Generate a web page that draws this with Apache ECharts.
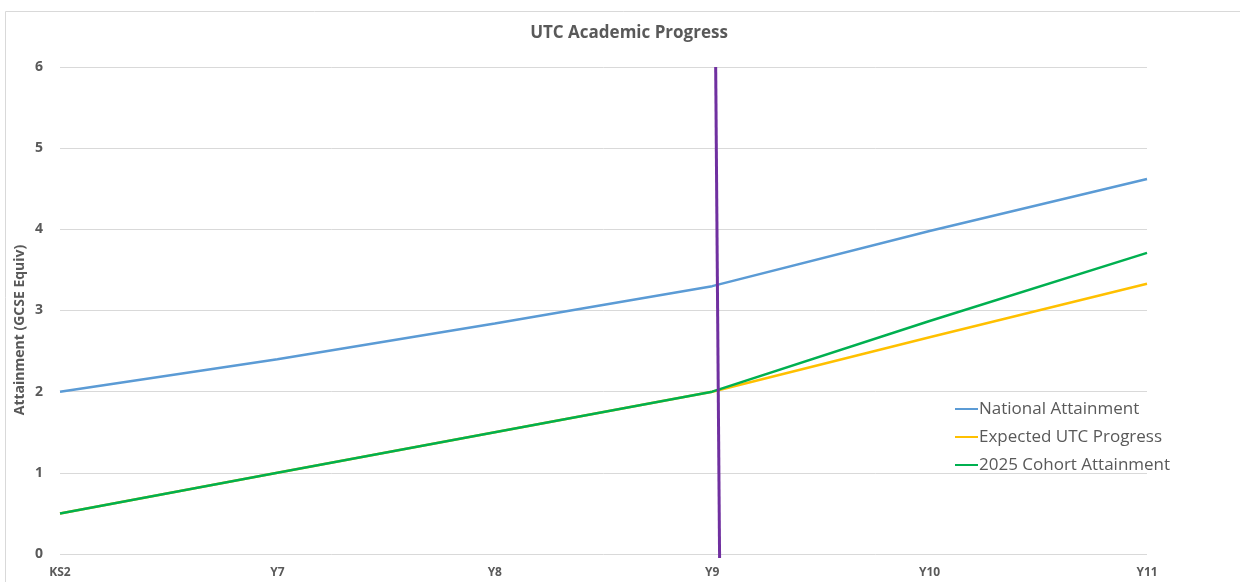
<!DOCTYPE html>
<html>
<head>
<meta charset="utf-8">
<script src="https://cdn.jsdelivr.net/npm/echarts@6/dist/echarts.min.js"></script>
<style>
html,body{margin:0;padding:0;background:#fff;}
#chart{width:1240px;height:582px;}
</style>
</head>
<body>
<div id="chart"></div>
<script>
const categories = ['KS2', 'Y7', 'Y8', 'Y9', 'Y10', 'Y11'];
const nationalAttainment = [2.0, 2.40, 2.84, 3.30, 3.98, 4.62];
const expectedProgress = [0.5, 1.0, 1.5, 2.0, 2.67, 3.33];
const cohortAttainment = [0.5, 1.0, 1.5, 2.0, 2.87, 3.71];
const markerLineX = [3.016, 3.034];
const markerLineY = [6.0, -0.05];
const yTicks = [0, 1, 2, 3, 4, 5, 6];

const fontFam = '"Open Sans", "Noto Sans", sans-serif';
const chart = echarts.init(document.getElementById('chart'));
const option = {
  backgroundColor: '#ffffff',
  animation: false,
  title: {
    text: 'UTC Academic Progress',
    left: 624, top: 20, textAlign: 'center',
    textStyle: { fontFamily: fontFam, fontSize: 17, fontWeight: 'bold', color: '#595959' }
  },
  graphic: [
    { type: 'rect', shape: { x: 5.5, y: 11.5, width: 1300, height: 650 },
      style: { fill: 'none', stroke: '#d9d9d9', lineWidth: 1 }, silent: true, z: -1 },
    { type: 'text', x: 20, y: 330, rotation: Math.PI / 2,
      style: { text: 'Attainment (GCSE Equiv)', fill: '#595959', font: 'bold 14px ' + fontFam,
               textAlign: 'center', textVerticalAlign: 'middle' } }
  ],
  legend: {
    orient: 'vertical', left: 950, top: 395, itemGap: 10,
    itemWidth: 23, itemHeight: 2, icon: 'rect',
    textStyle: { fontFamily: fontFam, fontSize: 17, lineHeight: 18, color: '#595959', padding: [0, 0, 0, -4] },
    data: ['National Attainment', 'Expected UTC Progress', '2025 Cohort Attainment']
  },
  grid: { left: 60, right: 93, top: 67, bottom: 28, containLabel: false },
  xAxis: [
    { type: 'category', data: categories, boundaryGap: false,
      axisLine: { show: false }, axisTick: { show: false },
      axisLabel: { fontFamily: fontFam, fontSize: 12, fontWeight: 'bold', color: '#595959', margin: 13 } },
    { type: 'value', min: 0, max: 5, show: false }
  ],
  yAxis: {
    type: 'value', min: yTicks[0], max: yTicks[yTicks.length - 1], interval: 1,
    axisLine: { show: false }, axisTick: { show: false },
    splitLine: { lineStyle: { color: '#d9d9d9', width: 1 } },
    axisLabel: { fontFamily: fontFam, fontSize: 14, fontWeight: 'bold', color: '#595959', margin: 17 }
  },
  series: [
    { name: 'National Attainment', type: 'line', data: nationalAttainment, showSymbol: false,
      lineStyle: { color: '#5B9BD5', width: 2.5 }, itemStyle: { color: '#5B9BD5' } },
    { name: 'Expected UTC Progress', type: 'line', data: expectedProgress, showSymbol: false,
      lineStyle: { color: '#FFC000', width: 2.5 }, itemStyle: { color: '#FFC000' } },
    { name: '2025 Cohort Attainment', type: 'line', data: cohortAttainment, showSymbol: false,
      lineStyle: { color: '#00B050', width: 2.5 }, itemStyle: { color: '#00B050' } },
    { name: 'Marker', type: 'line', xAxisIndex: 1, showSymbol: false, clip: false,
      data: markerLineX.map((x, i) => [x, markerLineY[i]]),
      lineStyle: { color: '#7030A0', width: 3 }, itemStyle: { color: '#7030A0' }, z: 5 }
  ]
};
chart.setOption(option);
</script>
</body>
</html>
